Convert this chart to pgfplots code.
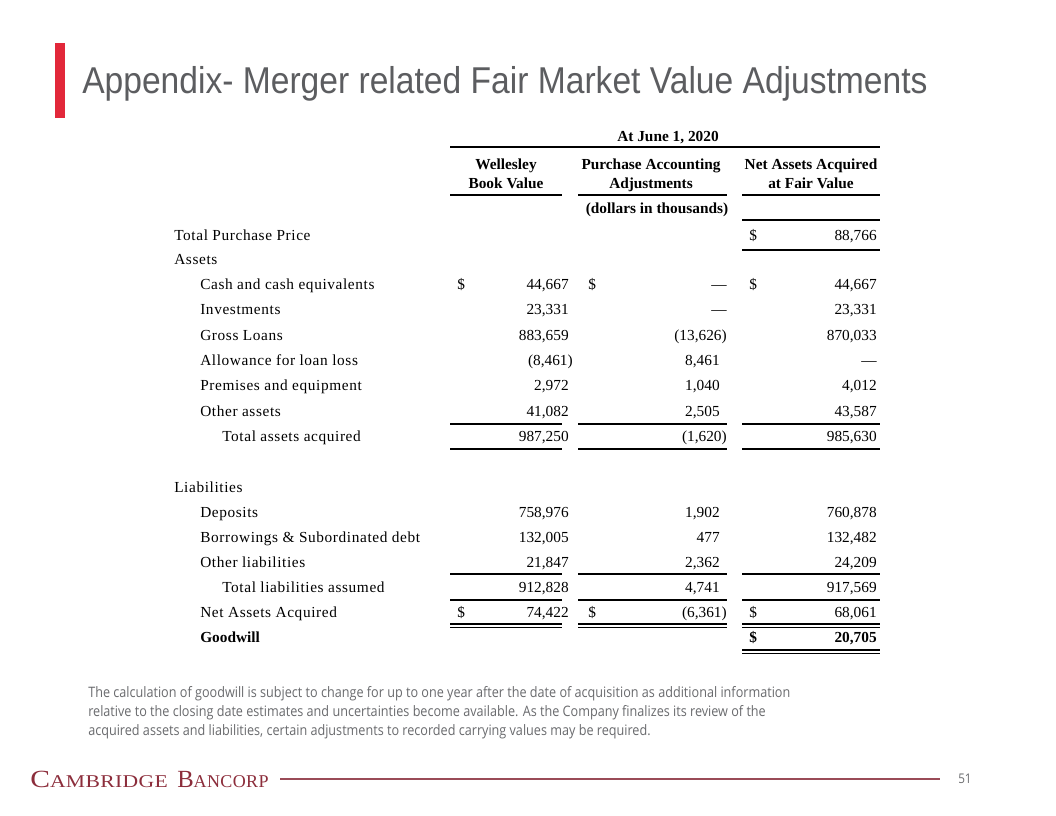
\documentclass[border=0pt]{standalone}
\usepackage{fontspec}
\setmainfont{Liberation Serif}
\newfontfamily\labfont[LetterSpace=4]{Liberation Serif}
\newfontfamily\titlefont[FakeStretch=0.90]{Liberation Sans}
\newfontfamily\notefont[FakeStretch=0.877]{Open Sans}
\newfontfamily\logofontA[FakeStretch=1.2,LetterSpace=2]{Liberation Serif}
\newfontfamily\logofontB[LetterSpace=2]{Liberation Serif}
\usepackage{graphicx}
\usepackage{pgfplots}
\pgfplotsset{compat=1.18}
\definecolor{titlegray}{HTML}{5C5D60}
\definecolor{barred}{HTML}{E2283A}
\definecolor{logored}{HTML}{8C2D3B}
\definecolor{linered}{HTML}{9A4B57}
\definecolor{notegray}{HTML}{6A6B6E}
\newcommand{\tf}{\fontsize{11.5}{13}\selectfont}
% label: x, baseline y, text
\newcommand{\lab}[3]{\node[anchor=base west,inner sep=0pt,font=\labfont\tf] at (axis cs:#1,#2) {#3};}
% right aligned value
\newcommand{\val}[3]{\node[anchor=base east,inner sep=0pt,font=\tf] at (axis cs:#1,#2) {#3};}
\newcommand{\dol}[2]{\node[anchor=base west,inner sep=0pt,font=\tf] at (axis cs:#1,#2) {\$};}
\newcommand{\ctr}[3]{\node[anchor=base,inner sep=0pt,font=\tf\bfseries] at (axis cs:#1,#2) {#3};}
\newcommand{\hl}[3]{\draw[black,line width=1pt] (axis cs:#1,#3) -- (axis cs:#2,#3);}
\newcommand{\threelines}[1]{\hl{450}{562}{#1}\hl{578}{727}{#1}\hl{742}{880}{#1}}
\begin{document}
\begin{tikzpicture}
\begin{axis}[scale only axis, width=792pt, height=612pt,
  xmin=0, xmax=1056, ymin=0, ymax=816, y dir=reverse,
  hide axis, clip=false]
\fill[white] (axis cs:0,0) rectangle (axis cs:1056,816);
% red bar and title
\fill[barred] (axis cs:55,43) rectangle (axis cs:65,118);
\node[anchor=base west,inner sep=0pt,text=titlegray,font=\titlefont\fontsize{28}{32}\selectfont] at (axis cs:82,94) {Appendix- Merger related Fair Market Value Adjustments};
% header
\ctr{668}{142}{At June 1, 2020}
\hl{450}{880}{147}
\ctr{506}{170}{Wellesley}
\ctr{506}{189}{Book Value}
\ctr{651}{170}{Purchase Accounting}
\ctr{651}{189}{Adjustments}
\ctr{811}{170}{Net Assets Acquired}
\ctr{811}{189}{at Fair Value}
\threelines{195}
\ctr{657}{214}{(dollars in thousands)}
\hl{742}{880}{220}
% total purchase price
\lab{174}{241}{Total Purchase Price}
\dol{749}{241}
\val{877}{241}{88,766}
\hl{742}{880}{250}
% assets
\lab{174}{265}{Assets}
\lab{200}{290}{Cash and cash equivalents}
\dol{457}{290}\val{569}{290}{44,667}
\dol{588}{290}\val{727}{290}{---}
\dol{749}{290}\val{877}{290}{44,667}
\lab{200}{315}{Investments}
\val{569}{315}{23,331}\val{727}{315}{---}\val{877}{315}{23,331}
\lab{200}{340}{Gross Loans}
\val{569}{340}{883,659}\val{727}{340}{(13,626)}\val{877}{340}{870,033}
\lab{200}{365}{Allowance for loan loss}
\val{573}{365}{(8,461)}\val{720}{365}{8,461}\val{877}{365}{---}
\lab{200}{391}{Premises and equipment}
\val{569}{391}{2,972}\val{720}{391}{1,040}\val{877}{391}{4,012}
\lab{200}{416}{Other assets}
\val{569}{416}{41,082}\val{720}{416}{2,505}\val{877}{416}{43,587}
\threelines{424}
\lab{222}{441}{Total assets acquired}
\val{569}{441}{987,250}\val{727}{441}{(1,620)}\val{877}{441}{985,630}
\threelines{449}
% liabilities
\lab{174}{492}{Liabilities}
\lab{200}{517}{Deposits}
\val{569}{517}{758,976}\val{720}{517}{1,902}\val{877}{517}{760,878}
\lab{200}{542}{Borrowings \& Subordinated debt}
\val{569}{542}{132,005}\val{720}{542}{477}\val{877}{542}{132,482}
\lab{200}{567}{Other liabilities}
\val{569}{567}{21,847}\val{720}{567}{2,362}\val{877}{567}{24,209}
\threelines{574}
\lab{222}{592}{Total liabilities assumed}
\val{569}{592}{912,828}\val{720}{592}{4,741}\val{877}{592}{917,569}
\threelines{600}
\lab{200}{617}{Net Assets Acquired}
\dol{457}{617}\val{569}{617}{74,422}
\dol{588}{617}\val{727}{617}{(6,361)}
\dol{749}{617}\val{877}{617}{68,061}
\threelines{624}
\threelines{627.5}
\node[anchor=base west,inner sep=0pt,font=\tf\bfseries] at (axis cs:200,642) {Goodwill};
\node[anchor=base west,inner sep=0pt,font=\tf\bfseries] at (axis cs:749,642) {\$};
\val{877}{642}{\bfseries 20,705}
\hl{742}{880}{650}
\hl{742}{880}{653.5}
% footnote
\node[anchor=base west,inner sep=0pt,text=notegray,font=\notefont\fontsize{10.8}{12}\selectfont] at (axis cs:88,697) {The calculation of goodwill is subject to change for up to one year after the date of acquisition as additional information};
\node[anchor=base west,inner sep=0pt,text=notegray,font=\notefont\fontsize{10.8}{12}\selectfont] at (axis cs:88,716) {relative to the closing date estimates and uncertainties become available. As the Company finalizes its review of the};
\node[anchor=base west,inner sep=0pt,text=notegray,font=\notefont\fontsize{10.8}{12}\selectfont] at (axis cs:88,735) {acquired assets and liabilities, certain adjustments to recorded carrying values may be required.};
% footer
\node[anchor=base west,inner sep=0pt,text=logored,font=\logofontA] at (axis cs:30,787) {{\fontsize{18.5}{20}\selectfont C}{\fontsize{13.5}{15}\selectfont AMBRIDGE}};
\node[anchor=base west,inner sep=0pt,text=logored,font=\logofontB] at (axis cs:177,787) {{\fontsize{18.5}{20}\selectfont B}{\fontsize{13.5}{15}\selectfont ANCORP}};
\draw[linered,line width=0.8pt] (axis cs:280,779) -- (axis cs:940,779);
\node[anchor=base west,inner sep=0pt,text=notegray,font=\notefont\fontsize{10}{11}\selectfont] at (axis cs:958,783) {51};
\end{axis}
\end{tikzpicture}
\end{document}
